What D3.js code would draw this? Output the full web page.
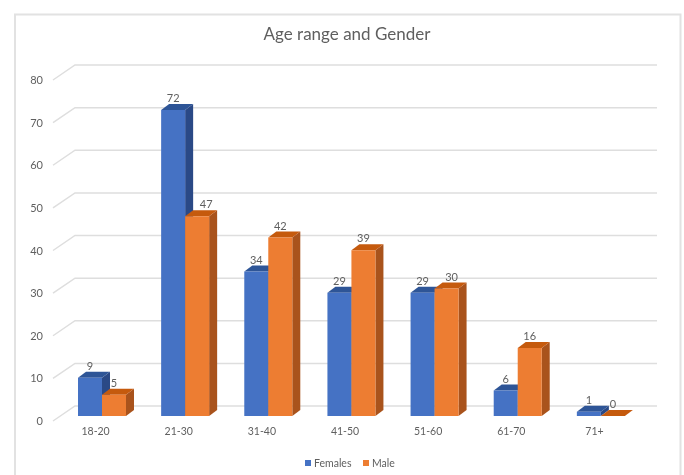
<!DOCTYPE html>
<html>
<head>
<meta charset="utf-8">
<script src="https://cdn.jsdelivr.net/npm/d3@7"></script>
<style>
  body { margin: 0; background: #fff; }
  text { font-family: Lato, sans-serif; fill: #5f5f5f; }
</style>
</head>
<body>
<div id="chart1"></div>
<script>
const categories = ["18-20","21-30","31-40","41-50","51-60","61-70","71+"];
const seriesNames = ["Females","Male"];
const females = [9,72,34,29,29,6,1];
const male = [5,47,42,39,30,16,0];
const yTicks = [0,10,20,30,40,50,60,70,80];

const colors = {
  Females: {front: "#4472c4", top: "#2f5597", side: "#2b4a86"},
  Male: {front: "#ed7d31", top: "#c55a11", side: "#a9521a"}
};

// two labels sit to the right of their bar in the original
const labelNudge = {"21-30 Male": 9, "51-60 Male": 5};

const width = 684;
const height = 475;
const depthX = 8, depthY = 6; // how far the bars go "back"
const wallX = 22, wallY = 15; // floor offset for the gridlines

const svg = d3.select("#chart1")
    .append("svg")
    .attr("width", width)
    .attr("height", height)
    .attr("viewBox", [0,0,width,height]);

// the reference is a soft screenshot, so blur everything a little
svg.append("defs").append("filter")
    .attr("id", "soft")
    .attr("filterUnits", "userSpaceOnUse")
    .attr("x", 0).attr("y", 0)
    .attr("width", width).attr("height", height)
    .append("feGaussianBlur")
    .attr("stdDeviation", 0.65);

const chart = svg.append("g").attr("filter", "url(#soft)");

chart.append("rect")
    .attr("width", width).attr("height", height)
    .attr("fill", "#fff");

// frame (open at the bottom, it runs off the picture)
chart.append("path")
    .attr("d", d3.line()([[15,height],[15,14.5],[680.5,14.5],[680.5,height]]))
    .attr("fill", "none")
    .attr("stroke", "#e2e2e2")
    .attr("stroke-width", 2);

const x = d3.scaleBand()
    .domain(categories)
    .range([54, 636]);

const xBar = d3.scaleBand()
    .domain(seriesNames)
    .range([0, 48]);

const barOffset = 24;

const y = d3.scaleLinear()   // bars
    .domain([0, 80])
    .range([416, 76]);

const yTick = d3.scaleLinear()   // tick labels and front end of the gridlines
    .domain([0, 80])
    .range([421, 80]);

// gridlines: short slanted bit on the floor, then along the back wall
chart.append("g")
    .selectAll("path")
    .data(yTicks)
    .join("path")
    .attr("d", d => d3.line()([
      [53, yTick(d)],
      [53 + wallX, yTick(d) - wallY],
      [657, yTick(d) - wallY]
    ]))
    .attr("fill", "none")
    .attr("stroke", "#dedede")
    .attr("stroke-width", 1.5);

const yAxis = chart.append("g")
    .attr("transform", "translate(43,0)")
    .call(d3.axisLeft(yTick).tickValues(yTicks).tickSize(0).tickPadding(0));
yAxis.select(".domain").remove();
yAxis.selectAll("text").style("font-size", "11px");

const xAxis = chart.append("g")
    .attr("transform", "translate(0,428)")
    .call(d3.axisBottom(x).tickSize(0).tickPadding(0));
xAxis.select(".domain").remove();
xAxis.selectAll("text").style("font-size", "10.5px");

const rows = [];
categories.forEach((c, i) => {
  rows.push({cat: c, name: "Females", value: females[i]});
  rows.push({cat: c, name: "Male", value: male[i]});
});

const poly = pts => pts.map(p => p.join(",")).join(" ");

const bar = chart.selectAll(".bar")
    .data(rows)
    .join("g")
    .attr("class", "bar")
    .attr("transform", d => `translate(${x(d.cat) + barOffset + xBar(d.name)},0)`);

bar.append("polygon")   // right side
    .attr("fill", d => colors[d.name].side)
    .attr("points", d => poly([
      [xBar.bandwidth(), y(d.value)],
      [xBar.bandwidth() + depthX, y(d.value) - depthY],
      [xBar.bandwidth() + depthX, y(0) - depthY],
      [xBar.bandwidth(), y(0)]
    ]));

bar.append("polygon")   // top
    .attr("fill", d => colors[d.name].top)
    .attr("points", d => poly([
      [0, y(d.value)],
      [depthX, y(d.value) - depthY],
      [xBar.bandwidth() + depthX, y(d.value) - depthY],
      [xBar.bandwidth(), y(d.value)]
    ]));

bar.append("rect")   // front
    .attr("fill", d => colors[d.name].front)
    .attr("width", xBar.bandwidth())
    .attr("y", d => y(d.value))
    .attr("height", d => y(0) - y(d.value));

// labels go on last so that no bar covers them
chart.selectAll(".value")
    .data(rows)
    .join("text")
    .attr("class", "value")
    .text(d => d.value)
    .attr("x", d => x(d.cat) + barOffset + xBar(d.name) + xBar.bandwidth() / 2 + (labelNudge[d.cat + " " + d.name] || 0))
    .attr("y", d => y(d.value) - 8)
    .attr("text-anchor", "middle")
    .style("font-size", "11px");

chart.append("text")
    .text("Age range and Gender")
    .attr("x", 347)
    .attr("y", 40)
    .attr("text-anchor", "middle")
    .style("font-size", "17px");

// legend
const legendX = d3.scaleOrdinal().domain(seriesNames).range([305, 363]);

const legend = chart.selectAll(".legend")
    .data(seriesNames)
    .join("g")
    .attr("class", "legend")
    .attr("transform", d => `translate(${legendX(d)},460)`);

legend.append("rect")
    .attr("width", 6)
    .attr("height", 6)
    .attr("fill", d => colors[d].front);

legend.append("text")
    .text(d => d)
    .attr("x", 9)
    .attr("y", 7)
    .style("font-size", "10.5px");
</script>
</body>
</html>
